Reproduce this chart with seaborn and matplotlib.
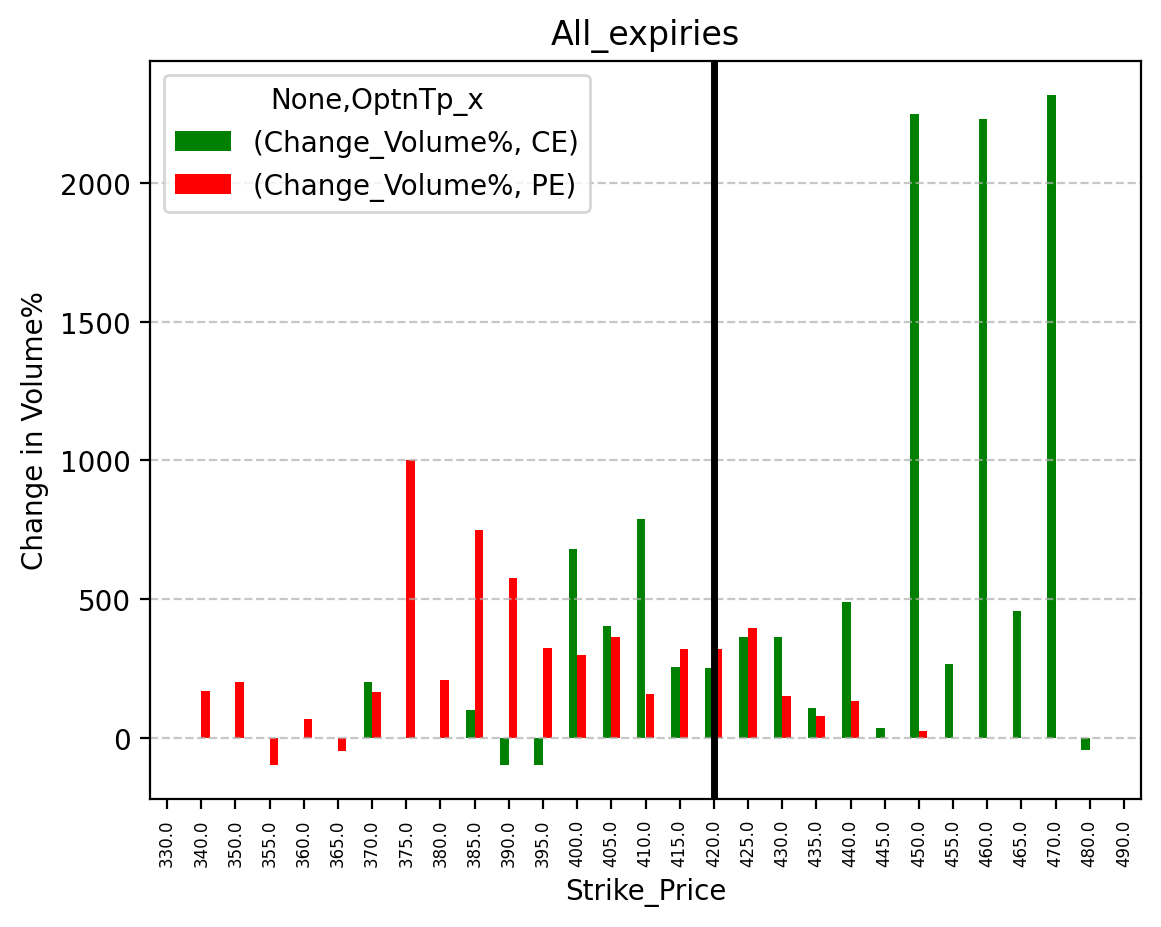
import numpy as np
import pandas as pd
import matplotlib
matplotlib.use("Agg")
import matplotlib.pyplot as plt
import seaborn as sns

nan = np.nan

# strike prices on the x axis
strikes = [330, 340, 350, 355, 360, 365, 370, 375, 380, 385, 390, 395, 400,
           405, 410, 415, 420, 425, 430, 435, 440, 445, 450, 455, 460, 465,
           470, 480, 490]

# change in volume % for calls / puts
ce_change = [nan, nan, nan, nan, nan, nan, 200, nan, nan, 100, -100, -100, 680,
             403, 788, 255, 252, 363, 363, 108, 489, 36, 2250, 266, 2230, 457,
             2320, -46, nan]
pe_change = [nan, 170, 200, -100, 67, -47, 166, 1000, 209, 750, 575, 324, 300,
             363, 158, 320, 320, 396, 151, 79, 133, nan, 25, nan, nan, nan,
             nan, nan, nan]

series_labels = ["(Change_Volume%, CE)", "(Change_Volume%, PE)"]
spot_strike = 420

tick_labels = [f"{s:.1f}" for s in strikes]

df = pd.DataFrame({
    "Strike_Price": tick_labels * 2,
    "value": ce_change + pe_change,
    "series": [series_labels[0]] * len(strikes) + [series_labels[1]] * len(strikes),
})

fig = plt.figure(figsize=(1161 / 200, 928 / 200), dpi=200)
ax = fig.add_axes([150 / 1161, 1 - 800 / 928, (1141 - 150) / 1161, (800 - 62) / 928])

sns.barplot(data=df, x="Strike_Price", y="value", hue="series",
            order=tick_labels, hue_order=series_labels,
            palette=["green", "red"], width=0.5, errorbar=None,
            linewidth=0, saturation=1, ax=ax)

ax.axvline(tick_labels.index(f"{spot_strike:.1f}"), color="black", linewidth=2.5)

ax.yaxis.grid(True, linestyle="--", alpha=0.7)
ax.set_title("All_expiries")
ax.set_xlabel("Strike_Price")
ax.set_ylabel("Change in Volume%")
ax.tick_params(axis="x", labelsize=6, labelrotation=90)
ax.legend(title="None,OptnTp_x", loc="upper left")

fig.savefig("out.png", dpi=200)
